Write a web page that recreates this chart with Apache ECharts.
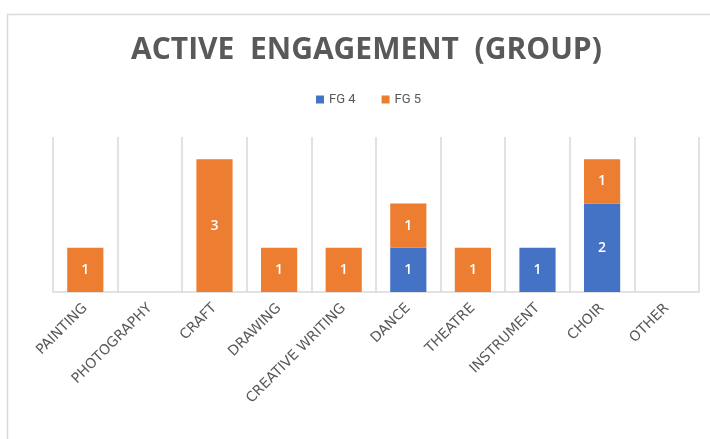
<!DOCTYPE html>
<html>

<head>
    <meta charset="UTF-8">
    <title>Active Engagement (Group)</title>
    <style>
        html, body { margin: 0; padding: 0; background: #fff; }
    </style>
</head>

<body>
    <div id="main" style="width: 710px;height:439px;"></div>

    <script src="https://cdn.jsdelivr.net/npm/echarts@6/dist/echarts.min.js"></script>
    <script type="text/javascript">
        // data
        var categories = ['PAINTING', 'PHOTOGRAPHY', 'CRAFT', 'DRAWING', 'CREATIVE WRITING',
            'DANCE', 'THEATRE', 'INSTRUMENT', 'CHOIR', 'OTHER'];
        var fg4 = [0, 0, 0, 0, 0, 1, 0, 1, 2, 0];
        var fg5 = [1, 0, 3, 1, 1, 1, 1, 0, 1, 0];
        var seriesNames = ['FG 4', 'FG 5'];

        var myChart = echarts.init(document.getElementById('main'));

        // hide zero values so empty segments get no label
        function noZero(arr) {
            return arr.map(function (v) { return v === 0 ? null : v; });
        }

        var labelStyle = {
            show: true,
            position: 'inside',
            color: '#fff',
            fontFamily: 'Open Sans',
            fontSize: 14,
            fontWeight: 600
        };

        myChart.setOption({
            animation: false,
            title: {
                text: 'ACTIVE  ENGAGEMENT  (GROUP)',
                left: 126,
                top: 30,
                textStyle: {
                    color: '#595959',
                    fontFamily: 'Open Sans',
                    fontSize: 30,
                    fontWeight: 'bold'
                }
            },
            legend: {
                data: seriesNames,
                top: 88,
                left: 311,
                itemWidth: 8,
                itemHeight: 8,
                itemGap: 26,
                icon: 'rect',
                textStyle: { color: '#595959', fontFamily: 'Roboto', fontSize: 13 }
            },
            grid: { left: 53, right: 11, top: 137, bottom: 147 },
            xAxis: {
                type: 'category',
                data: categories,
                axisLine: { lineStyle: { color: '#d9d9d9', width: 1.5 } },
                axisTick: { show: false },
                splitLine: { show: true, lineStyle: { color: '#d9d9d9', width: 1.5 } },
                axisLabel: {
                    rotate: 45,
                    interval: 0,
                    margin: 14,
                    color: '#595959',
                    fontFamily: 'DejaVu Sans',
                    fontSize: 14
                }
            },
            yAxis: {
                type: 'value',
                min: 0,
                max: 3.5,
                show: false,
                splitLine: { show: false }
            },
            graphic: [{
                type: 'rect',
                shape: { x: 7.5, y: 14.5, width: 800, height: 500 },
                style: { fill: 'none', stroke: '#d9d9d9', lineWidth: 1.5 },
                silent: true
            }],
            series: [{
                name: seriesNames[0],
                type: 'bar',
                stack: 'total',
                barWidth: '56%',
                itemStyle: { color: '#4472C4' },
                label: labelStyle,
                data: noZero(fg4)
            }, {
                name: seriesNames[1],
                type: 'bar',
                stack: 'total',
                barWidth: '56%',
                itemStyle: { color: '#ED7D31' },
                label: labelStyle,
                data: noZero(fg5)
            }]
        });
    </script>
</body>

</html>
